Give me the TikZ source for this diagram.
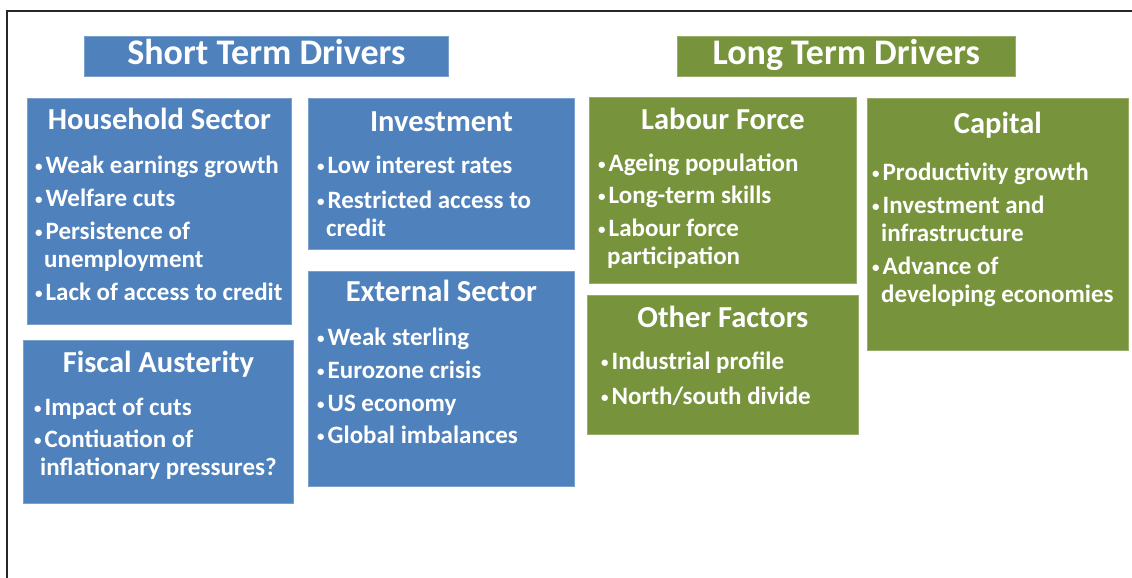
\documentclass[tikz,border=0pt]{standalone}
\usepackage{fontspec}
\setmainfont{Carlito}
\usepackage{tikz}
\usetikzlibrary{positioning}
\definecolor{short-blue}{RGB}{79,129,189}
\definecolor{long-green}{RGB}{119,147,60}
% small bullet in front of each point
\newcommand{\dotitem}{\raisebox{2pt}{\fontsize{15}{15}\selectfont•}\hspace{3pt}}

\tikzset{
  driverbox/.style={rectangle, anchor=north west, inner sep=0pt, line width=0.8pt},
  shortbox/.style={driverbox, fill=short-blue, draw=short-blue!75!white},
  longbox/.style={driverbox, fill=long-green, draw=long-green!75!white},
  headertext/.style={anchor=base, inner sep=0pt, text=white, font=\bfseries\fontsize{36}{38}\selectfont},
  boxtitle/.style={anchor=base, inner sep=0pt, text=white, font=\bfseries\fontsize{30.5}{32}\selectfont},
  boxitems/.style={anchor=base west, inner sep=0pt, text=white, font=\bfseries\fontsize{25}{28}\selectfont}
}

\begin{document}
\begin{tikzpicture}[x=1pt, y=-1pt]
\useasboundingbox (0,0) rectangle (1132,578);
\draw[line width=2pt, black!85] (7,11) rectangle (1150,600);

% column headers
\node[shortbox, minimum width=364pt, minimum height=40pt] (short) at (84,36) {};
\node[headertext] (short-text) at ([yshift=-29pt]short.north) {Short Term Drivers};
\node[longbox, minimum width=338pt, minimum height=40pt] (long) at (677,36) {};
\node[headertext] (long-text) at ([yshift=-29pt]long.north) {Long Term Drivers};

% short term
\node[shortbox, minimum width=264pt, minimum height=226pt] (household) at (27,98) {};
\node[boxtitle] (household-title) at ([yshift=-31pt]household.north) {Household Sector};
\node[boxitems] (household-items) at ([xshift=8pt, yshift=-75pt]household.north west) {\parbox[t]{260pt}{%
  \dotitem Weak earnings growth\\[5pt]
  \dotitem Welfare cuts\\[5pt]
  \dotitem Persistence of\\
  \hspace*{9pt}unemployment\\[5pt]
  \dotitem Lack of access to credit}};

\node[shortbox, minimum width=270pt, minimum height=163pt] (fiscal) at (23,340) {};
\node[boxtitle] (fiscal-title) at ([yshift=-32pt]fiscal.north) {Fiscal Austerity};
\node[boxitems] (fiscal-items) at ([xshift=11pt, yshift=-75pt]fiscal.north west) {\parbox[t]{260pt}{%
  \dotitem Impact of cuts\\[4pt]
  \dotitem Contiuation of\\
  \hspace*{6pt}inflationary pressures?}};

\node[shortbox, minimum width=266pt, minimum height=151pt] (invest) at (308,98) {};
\node[boxtitle] (invest-title) at ([yshift=-33pt]invest.north) {Investment};
\node[boxitems] (invest-items) at ([xshift=9pt, yshift=-75pt]invest.north west) {\parbox[t]{260pt}{%
  \dotitem Low interest rates\\[7pt]
  \dotitem Restricted access to\\
  \hspace*{9pt}credit}};

\node[shortbox, minimum width=266pt, minimum height=215pt] (external) at (308,271) {};
\node[boxtitle] (external-title) at ([yshift=-30pt]external.north) {External Sector};
\node[boxitems] (external-items) at ([xshift=9pt, yshift=-74pt]external.north west) {\parbox[t]{260pt}{%
  \dotitem Weak sterling\\[5pt]
  \dotitem Eurozone crisis\\[5pt]
  \dotitem US economy\\[4pt]
  \dotitem Global imbalances}};

% long term
\node[longbox, minimum width=267pt, minimum height=186pt] (labour) at (589,97) {};
\node[boxtitle] (labour-title) at ([yshift=-32pt]labour.north) {Labour Force};
\node[boxitems] (labour-items) at ([xshift=9pt, yshift=-74pt]labour.north west) {\parbox[t]{260pt}{%
  \dotitem Ageing population\\[4pt]
  \dotitem Long-term skills\\[5pt]
  \dotitem Labour force\\
  \hspace*{9pt}participation}};

\node[longbox, minimum width=271pt, minimum height=139pt] (other) at (587,295) {};
\node[boxtitle] (other-title) at ([yshift=-32pt]other.north) {Other Factors};
\node[boxitems] (other-items) at ([xshift=14pt, yshift=-74pt]other.north west) {\parbox[t]{260pt}{%
  \dotitem Industrial profile\\[7pt]
  \dotitem North/south divide}};

\node[longbox, minimum width=261pt, minimum height=252pt] (capital) at (867,98) {};
\node[boxtitle] (capital-title) at ([yshift=-35pt]capital.north) {Capital};
\node[boxitems] (capital-items) at ([xshift=5pt, yshift=-82pt]capital.north west) {\parbox[t]{255pt}{%
  \dotitem Productivity growth\\[5pt]
  \dotitem Investment and\\
  \hspace*{9pt}infrastructure\\[5pt]
  \dotitem Advance of\\
  \hspace*{9pt}developing economies}};
\end{tikzpicture}
\end{document}
